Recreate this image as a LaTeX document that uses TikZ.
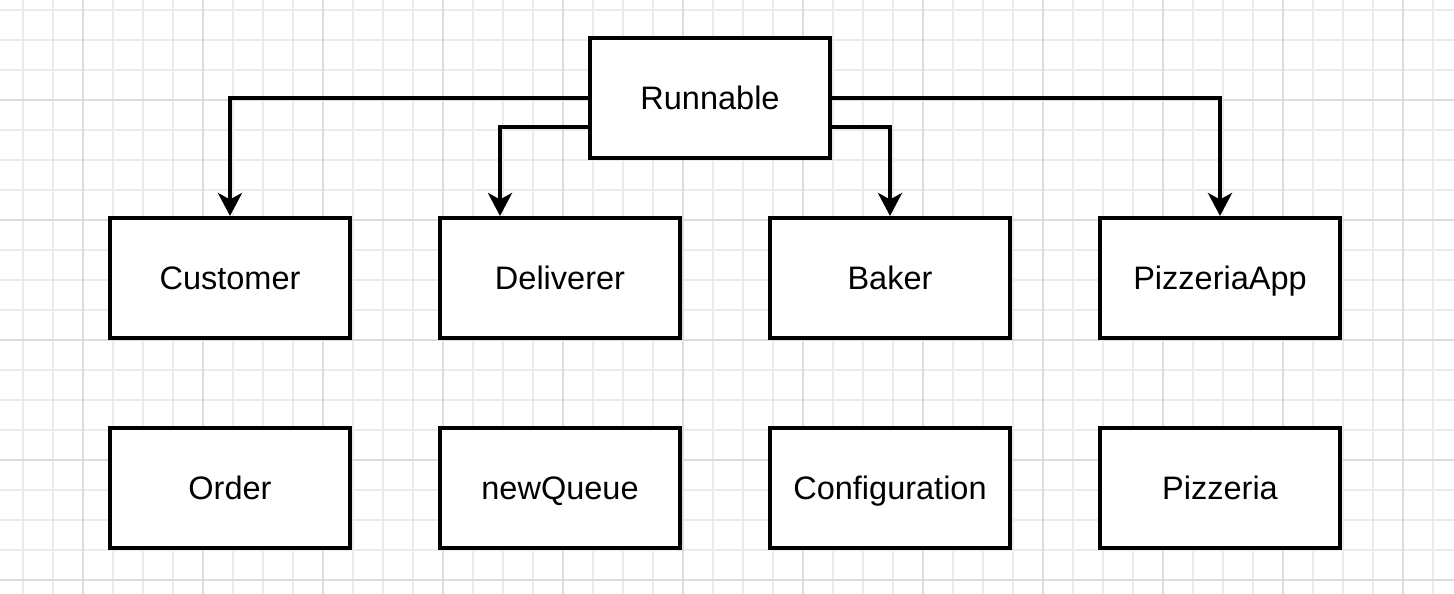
\documentclass[tikz,border=0pt]{standalone}
\usepackage{fontspec}
\setmainfont{Liberation Sans}
\usepackage{tikz}
\usetikzlibrary{arrows.meta}
\usetikzlibrary{positioning}

\definecolor{minorgrid}{HTML}{EBEBEB}
\definecolor{majorgrid}{HTML}{DCDCDC}

\tikzset{
	box/.style={draw=black, fill=white, line width=2.3pt, minimum width=4.8cm, minimum height=2.4cm, text height=13.2pt, text depth=0pt, font=\fontsize{18.5}{22}\selectfont},
	arr/.style={draw=black, line width=2.3pt, -{Stealth[length=0.46cm, width=0.48cm, inset=0.13cm]}}
}

\begin{document}
\begin{tikzpicture}[x=0.02cm, y=-0.02cm]
	\useasboundingbox (0, 0) rectangle (1454, 594);
	\fill[white] (0, 0) rectangle (1454, 594);
	\foreach \gx in {23, 53, ..., 1454}
		\draw[minorgrid, line width=0.8pt] (\gx, 0) -- (\gx, 594);
	\foreach \gy in {10, 40, ..., 594}
		\draw[minorgrid, line width=0.8pt] (0, \gy) -- (1454, \gy);
	\foreach \gx in {83, 203, ..., 1454}
		\draw[majorgrid, line width=0.8pt] (\gx, 0) -- (\gx, 594);
	\foreach \gy in {100, 220, ..., 594}
		\draw[majorgrid, line width=0.8pt] (0, \gy) -- (1454, \gy);

	\node[box] (runnable) at (710, 98) {Runnable};

	\node[box] (customer) at (230, 278) {Customer};
	\node[box] (deliverer) at (560, 278) {Deliverer};
	\node[box] (baker) at (890, 278) {Baker};
	\node[box] (pizzeriaapp) at (1220, 278) {PizzeriaApp};

	\node[box] (order) at (230, 488) {Order};
	\node[box] (newqueue) at (560, 488) {newQueue};
	\node[box] (configuration) at (890, 488) {Configuration};
	\node[box] (pizzeria) at (1220, 488) {Pizzeria};

	\draw[arr] (runnable.west) -| (customer.north);
	\draw[arr] ([yshift=-0.58cm]runnable.west) -| ([xshift=-1.2cm]deliverer.north);
	\draw[arr] ([yshift=-0.58cm]runnable.east) -| (baker.north);
	\draw[arr] (runnable.east) -| (pizzeriaapp.north);
\end{tikzpicture}
\end{document}
